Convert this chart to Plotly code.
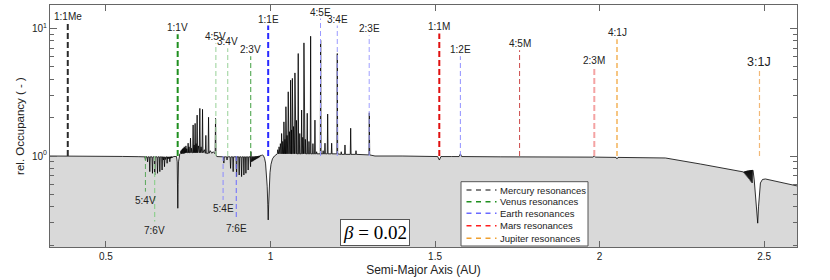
import math
import plotly.graph_objects as go

# ---------------- data ----------------
curve_x = [
    0.330, 0.380, 0.384, 0.388, 0.450, 0.500, 0.550, 0.600, 0.615,
    0.6185, 0.6201, 0.6215, 0.6250, 0.6265, 0.6280, 0.6318, 0.6332, 0.6346,
    0.6400, 0.6414, 0.6428, 0.6470, 0.6484, 0.6498, 0.6553, 0.6567, 0.6581,
    0.6623, 0.6637, 0.6651, 0.6692, 0.6706, 0.6720, 0.6740, 0.6750, 0.6765,
    0.6779, 0.6793, 0.6810, 0.6825, 0.6845, 0.6859, 0.6873, 0.6885, 0.6900,
    0.6915, 0.6928, 0.6941, 0.6955, 0.6965, 0.6975, 0.6985, 0.6995, 0.7005,
    0.7015, 0.7025, 0.7035, 0.7045, 0.7060, 0.7120,
    0.7145, 0.7165, 0.7178, 0.7184, 0.7192, 0.7205, 0.7220, 0.7245,
    0.7265, 0.7280, 0.7292, 0.7305, 0.7318, 0.7330, 0.7342, 0.7355, 0.7368,
    0.7380, 0.7392, 0.7405, 0.7418, 0.7430, 0.7442, 0.7455, 0.7468, 0.7482,
    0.7497, 0.7512, 0.7525, 0.7540, 0.7556, 0.7570, 0.7584, 0.7600, 0.7615,
    0.7635, 0.7649, 0.7663, 0.7680, 0.7695, 0.7710, 0.7724, 0.7740, 0.7756,
    0.7771, 0.7785, 0.7810, 0.7835, 0.7853, 0.7867, 0.7890, 0.7920, 0.7935,
    0.7949, 0.7990, 0.8020, 0.8036, 0.8050, 0.8104, 0.8118, 0.8132, 0.8170,
    0.8218, 0.8260, 0.8300, 0.8317, 0.8331, 0.8345, 0.8370,
    0.8450, 0.8570, 0.8583, 0.8597, 0.8666, 0.8680, 0.8694, 0.8773, 0.8787,
    0.8801, 0.8852, 0.8866, 0.8880, 0.8956, 0.8970, 0.8984, 0.9035, 0.9049,
    0.9063, 0.9108, 0.9122, 0.9136, 0.9178, 0.9192, 0.9206, 0.9239, 0.9253,
    0.9267, 0.9308, 0.9322, 0.9336, 0.9381, 0.9395, 0.9400, 0.9405, 0.9412,
    0.9430, 0.9445, 0.9460, 0.9475, 0.9490, 0.9505, 0.9520, 0.9535, 0.9550,
    0.9565, 0.9580, 0.9595, 0.9610, 0.9625, 0.9640, 0.9655, 0.9670, 0.9690,
    0.9720, 0.9760,
    0.9790, 0.9820, 0.9850, 0.9875, 0.9900, 0.9918, 0.9931, 0.9945, 0.9962,
    0.9985, 1.0015, 1.0060, 1.0120, 1.0180,
    1.0208, 1.0220, 1.0232, 1.0248, 1.0260, 1.0272, 1.0288, 1.0300, 1.0312,
    1.0326, 1.0338, 1.0350, 1.0360, 1.0372, 1.0384, 1.0396, 1.0408, 1.0420,
    1.0430, 1.0440, 1.0450, 1.0457, 1.0469, 1.0481, 1.0493, 1.0505, 1.0517,
    1.0527, 1.0539, 1.0551, 1.0563, 1.0575, 1.0587, 1.0600, 1.0612, 1.0624,
    1.0632, 1.0640, 1.0648, 1.0655, 1.0665, 1.0675, 1.0690, 1.0700, 1.0710,
    1.0731, 1.0743, 1.0755, 1.0778, 1.0790, 1.0802, 1.0831, 1.0843, 1.0855,
    1.0878, 1.0890, 1.0902, 1.0935, 1.0947, 1.0959, 1.0968, 1.0980, 1.0992,
    1.1005, 1.1017, 1.1029, 1.1048, 1.1060, 1.1072, 1.1105, 1.1117, 1.1129,
    1.1158, 1.1170, 1.1182, 1.1208, 1.1220, 1.1232, 1.1278, 1.1290, 1.1302,
    1.1339, 1.1351, 1.1363, 1.1391, 1.1403, 1.1415, 1.1513, 1.1525, 1.1537,
    1.1588, 1.1600, 1.1612, 1.1644, 1.1656, 1.1668, 1.1726, 1.1738, 1.1750,
    1.1847, 1.1859, 1.1871, 1.2018, 1.2030, 1.2042, 1.2138, 1.2150, 1.2162,
    1.2252, 1.2264, 1.2276, 1.2425, 1.2437, 1.2449, 1.2587, 1.2599, 1.2611,
    1.2991, 1.3003, 1.3015, 1.3176,
    1.4000, 1.5000, 1.5080, 1.5132, 1.5180, 1.5500, 1.5730, 1.5771, 1.5810,
    1.7000, 1.9000, 1.9800, 1.9838, 1.9880, 2.0500, 2.0529, 2.0560, 2.2000,
    2.3062, 2.4279, 2.4380, 2.4395, 2.4410, 2.4425, 2.4440, 2.4455, 2.4470,
    2.4485, 2.4500, 2.4515, 2.4530, 2.4545, 2.4560, 2.4575, 2.4590, 2.4605,
    2.4620, 2.4635, 2.4650, 2.4666, 2.4700, 2.4730, 2.4760, 2.4785, 2.4806,
    2.4830, 2.4860, 2.4888, 2.4950, 2.5040, 2.6004,
]
curve_y = [
    1.000, 1.000, 1.004, 1.000, 0.997, 0.995, 0.992, 0.988, 0.986,
    0.985, 0.930, 0.985, 0.985, 0.900, 0.985, 0.985, 0.754, 0.985,
    0.985, 0.732, 0.985, 0.985, 0.710, 0.985, 0.985, 0.732, 0.985,
    0.985, 0.754, 0.985, 0.985, 0.777, 0.985, 0.985, 0.930, 0.985,
    0.825, 0.985, 0.940, 0.985, 0.985, 0.877, 0.985, 0.950, 0.985,
    0.955, 0.985, 0.902, 0.985, 0.960, 0.988, 0.965, 0.988, 0.970,
    0.990, 0.975, 0.990, 0.980, 0.992, 0.995,
    0.990, 0.900, 0.600, 0.390, 0.600, 0.900, 1.000, 1.040,
    1.050, 1.100, 1.040, 1.120, 1.050, 1.140, 1.040, 1.150, 1.050,
    1.180, 1.050, 1.160, 1.060, 1.200, 1.060, 1.140, 1.060, 1.060,
    1.260, 1.060, 1.180, 1.060, 1.060, 1.380, 1.060, 1.150, 1.060,
    1.060, 1.750, 1.060, 1.220, 1.060, 1.800, 1.060, 1.250, 1.060,
    2.090, 1.060, 1.200, 1.060, 2.360, 1.060, 1.180, 1.060, 2.320,
    1.060, 1.120, 1.050, 1.450, 1.050, 1.050, 2.010, 1.050, 1.100,
    1.050, 1.080, 1.040, 1.040, 1.970, 1.020, 0.990,
    0.985, 0.985, 0.880, 0.985, 0.985, 0.930, 0.985, 0.985, 0.800,
    0.985, 0.985, 0.754, 0.985, 0.985, 0.690, 0.985, 0.985, 0.710,
    0.985, 0.985, 0.690, 0.985, 0.985, 0.710, 0.985, 0.985, 0.732,
    0.985, 0.985, 0.777, 0.985, 0.985, 0.825, 0.985, 1.080, 0.985,
    0.900, 0.990, 0.910, 0.990, 0.920, 0.990, 0.930, 0.995, 0.940,
    0.995, 0.950, 1.000, 0.960, 1.000, 0.970, 1.005, 0.980, 1.010,
    1.010, 1.020,
    1.000, 0.960, 0.880, 0.740, 0.580, 0.420, 0.316, 0.420, 0.580,
    0.740, 0.860, 0.950, 1.000, 1.030,
    1.040, 1.120, 1.040, 1.040, 1.180, 1.040, 1.040, 1.250, 1.040,
    1.040, 1.500, 1.040, 1.040, 1.300, 1.040, 1.040, 1.850, 1.040,
    1.040, 1.350, 1.040, 1.040, 2.430, 1.040, 1.040, 1.450, 1.040,
    1.040, 3.180, 1.040, 1.040, 1.550, 1.040, 1.040, 3.920, 1.040,
    1.040, 1.600, 1.040, 1.040, 4.050, 1.040, 1.040, 1.700, 1.040,
    1.040, 4.470, 1.040, 1.040, 1.900, 1.040, 1.040, 6.340, 1.040,
    1.040, 1.500, 1.040, 1.040, 2.290, 1.040, 1.040, 1.400, 1.040,
    1.040, 7.680, 1.040, 1.040, 1.350, 1.040, 1.040, 2.160, 1.040,
    1.040, 1.300, 1.040, 1.040, 8.660, 1.040, 1.040, 1.250, 1.040,
    1.040, 1.910, 1.040, 1.040, 1.080, 1.040, 1.040, 8.060, 1.040,
    1.040, 1.100, 1.040, 1.040, 1.260, 1.040, 1.040, 2.130, 1.040,
    1.040, 1.260, 1.040, 1.040, 6.340, 1.040, 1.030, 1.080, 1.030,
    1.030, 1.220, 1.030, 1.030, 1.650, 1.030, 1.030, 1.100, 1.030,
    1.020, 2.180, 1.020, 1.000,
    1.000, 0.995, 0.990, 0.930, 0.990, 0.990, 0.990, 1.040, 0.990,
    0.985, 0.980, 0.980, 1.000, 0.980, 0.975, 0.950, 0.975, 0.965,
    0.866, 0.754, 0.750, 0.735, 0.758, 0.720, 0.762, 0.705, 0.765,
    0.690, 0.768, 0.675, 0.770, 0.660, 0.773, 0.645, 0.775, 0.630,
    0.777, 0.615, 0.778, 0.767, 0.650, 0.520, 0.400, 0.330, 0.298,
    0.400, 0.550, 0.615, 0.655, 0.661, 0.583,
]

res_labels = ["1:1Me", "1:1V", "4:5V", "3:4V", "2:3V", "1:1E", "4:5E", "3:4E",
              "2:3E", "1:1M", "1:2E", "4:5M", "2:3M", "4:1J", "3:1J",
              "5:4V", "7:6V", "5:4E", "7:6E"]
res_x = [0.384, 0.718, 0.834, 0.870, 0.940, 0.993, 1.152, 1.203,
         1.300, 1.513, 1.577, 1.757, 1.984, 2.053, 2.486,
         0.620, 0.648, 0.856, 0.896]
res_end = [10.9, 8.98, 7.64, 6.98, 6.04, 10.5, 11.9, 10.5,
           8.8, 9.1, 6.04, 6.73, 4.96, 8.2, 4.7,
           0.526, 0.307, 0.453, 0.316]

legend_names = ["Mercury resonances", "Venus resonances", "Earth resonances",
                "Mars resonances", "Jupiter resonances"]

x_tickvals = [0.5, 1, 1.5, 2, 2.5]
x_ticktext = ["0.5", "1", "1.5", "2", "2.5"]
y_tickvals = [1, 10]
y_ticktext = ["10<sup>0</sup>", "10<sup>1</sup>"]
y_minor = [0.2, 0.3, 0.4, 0.5, 0.6, 0.7, 0.8, 0.9, 2, 3, 4, 5, 6, 7, 8, 9]

beta_text = "<i>β</i> = 0.02"

# ---------------- styles ----------------
res_color = ["#2b2b2b", "#1f8f1f", "#a9d9a9", "#a9d9a9", "#3f9f3f", "#2a2aff",
             "#9a9aff", "#9a9aff", "#a0a0ff", "#e01010", "#9090ff", "#cc4a4a",
             "#f4a3a3", "#f0a030", "#f2b877",
             "#5aa85a", "#90cf90", "#8a8aff", "#6a6aff"]
res_width = [2, 2, 1.2, 1.2, 1, 2, 1, 1, 1, 2, 1, 1, 2, 1.2, 1.2,
             1, 1.2, 1, 1]
res_fsize = [10] * 14 + [12.5] + [10] * 4
legend_colors = ["#5a5a5a", "#1f8f1f", "#6a6aff", "#ff2020", "#f0a030"]

FONT = "Liberation Sans, Arial, sans-serif"
FILL = "#d9d9d9"
Y_BOTTOM = 0.05

fig = go.Figure()

# fill under curve
fig.add_trace(go.Scatter(x=[curve_x[0], curve_x[-1]], y=[Y_BOTTOM, Y_BOTTOM],
                         mode="lines", line=dict(width=0, color=FILL),
                         showlegend=False, hoverinfo="skip"))
fig.add_trace(go.Scatter(x=curve_x, y=curve_y, mode="lines",
                         line=dict(color="black", width=0.8),
                         fill="tonexty", fillcolor=FILL, showlegend=False))

annotations = []
for lab, rx, re, col, w, fs in zip(res_labels, res_x, res_end, res_color,
                                   res_width, res_fsize):
    dash = "6px,3px" if w >= 2 else "5px,3px"
    fig.add_trace(go.Scatter(x=[rx, rx], y=[1.0, re], mode="lines",
                             line=dict(color=col, width=w, dash=dash),
                             showlegend=False, hoverinfo="skip"))
    upper = re > 1
    annotations.append(dict(
        x=rx, y=math.log10(re), xref="x", yref="y", text=lab,
        showarrow=False, xanchor="center",
        yanchor="bottom" if upper else "top",
        yshift=-1,
        font=dict(family=FONT, size=fs, color="#222")))

# custom legend
L_X0, L_X1 = 461, 588
L_Y0, L_Y1 = 181.7, 246
PX0, PX1, PY0, PY1 = 50, 797, 5, 247


def px2paper_x(p):
    return (p - PX0) / (PX1 - PX0)


def px2paper_y(p):
    return (PY1 - p) / (PY1 - PY0)


shapes = [dict(type="rect", xref="paper", yref="paper",
               x0=px2paper_x(L_X0), x1=px2paper_x(L_X1),
               y0=px2paper_y(L_Y1), y1=px2paper_y(L_Y0),
               line=dict(color="#555", width=1), fillcolor="white", layer="above")]
row_y = [190, 201.7, 213.3, 225.8, 238.2]
for name, col, ry in zip(legend_names, legend_colors, row_y):
    shapes.append(dict(type="line", xref="paper", yref="paper",
                       x0=px2paper_x(466.5), x1=px2paper_x(496.5),
                       y0=px2paper_y(ry), y1=px2paper_y(ry),
                       line=dict(color=col, width=1.5, dash="5px,4.5px"),
                       layer="above"))
    annotations.append(dict(x=px2paper_x(497.5), y=px2paper_y(ry), xref="paper",
                            yref="paper", text=name, showarrow=False,
                            xanchor="left", yanchor="middle",
                            font=dict(family=FONT, size=9.5, color="#222")))

annotations.append(dict(x=px2paper_x(374.5), y=px2paper_y(232.8), xref="paper",
                        yref="paper", text=beta_text, showarrow=False,
                        xanchor="center", yanchor="middle",
                        font=dict(family="Liberation Serif, serif", size=19,
                                  color="black"),
                        bgcolor="white", bordercolor="#555", borderwidth=1,
                        borderpad=2))

fig.update_layout(
    width=830, height=280,
    margin=dict(l=PX0, r=830 - PX1, t=PY0, b=280 - PY1, autoexpand=False),
    paper_bgcolor="white", plot_bgcolor="white",
    font=dict(family=FONT, size=10, color="#222"),
    showlegend=False,
    annotations=annotations, shapes=shapes,
    xaxis=dict(range=[0.33, 2.6], tickvals=x_tickvals, ticktext=x_ticktext,
               ticks="inside", ticklen=6, tickcolor="#666", mirror="allticks",
               showline=True, linecolor="#666", linewidth=1,
               showgrid=False, zeroline=False, automargin=False,
               tickfont=dict(size=10, color="#222"),
               title=dict(text="Semi-Major Axis (AU)", standoff=4,
                          font=dict(size=12, color="#222"))),
    yaxis=dict(type="log", range=[math.log10(0.194), math.log10(15.2)],
               tickvals=y_tickvals, ticktext=y_ticktext,
               ticks="inside", ticklen=7, tickcolor="#666", mirror="allticks",
               showline=True, linecolor="#666", linewidth=1,
               showgrid=False, zeroline=False, automargin=False,
               minor=dict(tickvals=y_minor, ticks="inside", ticklen=4,
                          tickcolor="#666", showgrid=False),
               tickfont=dict(size=10, color="#222"),
               title=dict(text="rel. Occupancy ( - )", standoff=4,
                          font=dict(size=11.5, color="#222"))),
)

fig.write_html("out.html",
               config={"displayModeBar": False},
               post_script="document.body.style.margin='0';"
                           "document.body.style.padding='0';")
